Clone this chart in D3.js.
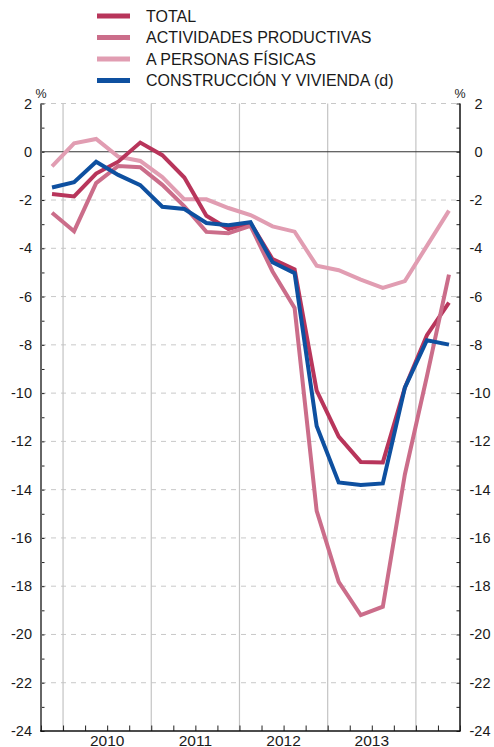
<!DOCTYPE html>
<html lang="es">
<head>
<meta charset="UTF-8">
<title>Crédito por finalidades</title>
<script src="https://d3js.org/d3.v7.min.js"></script>
<style>
  html, body { margin: 0; padding: 0; background: #fff; }
  svg { display: block; font-family: "Liberation Sans", Arial, Helvetica, sans-serif; }
</style>
</head>
<body>
<svg id="chart" width="494" height="747"></svg>
<script>
(function () {
  'use strict';

  // quarters from Q4 2009 to Q2 2014
  const quarters = ["IV-09", "I-10", "II-10", "III-10", "IV-10", "I-11", "II-11", "III-11", "IV-11",
                    "I-12", "II-12", "III-12", "IV-12", "I-13", "II-13", "III-13", "IV-13", "I-14", "II-14"];
  const years = ["2010", "2011", "2012", "2013"];
  const yTicks = d3.range(2, -25, -2);

  const total        = [-1.75, -1.85, -0.9, -0.41, 0.38, -0.14, -1.07, -2.65, -3.2, -2.95, -4.45, -4.87, -9.9, -11.8, -12.85, -12.87, -9.77, -7.6, -6.25];
  const actividades  = [-2.53, -3.29, -1.3, -0.59, -0.64, -1.37, -2.26, -3.32, -3.38, -3.07, -4.96, -6.47, -14.88, -17.82, -19.2, -18.85, -13.37, -9.3, -5.09];
  const personas     = [-0.61, 0.35, 0.53, -0.2, -0.38, -1.05, -1.97, -1.97, -2.33, -2.62, -3.09, -3.31, -4.72, -4.91, -5.3, -5.64, -5.36, -3.9, -2.44];
  const construccion = [-1.48, -1.26, -0.41, -0.96, -1.38, -2.28, -2.37, -2.95, -3.04, -2.92, -4.58, -5.03, -11.36, -13.7, -13.81, -13.74, -9.77, -7.81, -7.99];

  const seriesNames = ["TOTAL", "ACTIVIDADES PRODUCTIVAS", "A PERSONAS FÍSICAS", "CONSTRUCCIÓN Y VIVIENDA (d)"];
  const seriesColors = ["#b8355b", "#cb6d8a", "#e19db2", "#0e50a0"];
  const seriesValues = [total, actividades, personas, construccion];

  const left = 41, right = 460, top = 103.5, bottom = 731;

  const svg = d3.select("#chart");

  const x = d3.scaleLinear().domain([0, quarters.length]).range([left, right]);
  const y = d3.scaleLinear().domain([-24, 2]).range([bottom, top]);

  // dashed horizontal grid
  svg.append("g")
    .selectAll("line")
    .data(yTicks.filter(v => v !== 0 && v !== -24))
    .join("line")
      .attr("x1", left).attr("x2", right)
      .attr("y1", d => y(d)).attr("y2", d => y(d))
      .attr("stroke", "#c8c8c8")
      .attr("stroke-width", 1)
      .attr("stroke-dasharray", "5,5");

  // year separators
  const yearStarts = [1, 5, 9, 13, 17];
  svg.append("g")
    .selectAll("line")
    .data(yearStarts)
    .join("line")
      .attr("x1", d => x(d)).attr("x2", d => x(d))
      .attr("y1", top).attr("y2", bottom)
      .attr("stroke", "#c4c4c4")
      .attr("stroke-width", 1.2);

  // zero line
  svg.append("line")
    .attr("x1", left).attr("x2", right)
    .attr("y1", y(0)).attr("y2", y(0))
    .attr("stroke", "#333")
    .attr("stroke-width", 1.1);

  // left axis
  const leftAxis = d3.axisRight(y).tickValues(d3.range(2, -25, -1)).tickSize(3.5).tickFormat("");
  const gl = svg.append("g").attr("transform", `translate(${left},0)`).call(leftAxis);
  gl.select(".domain").remove();
  gl.selectAll(".tick line").attr("stroke", "#222");
  svg.append("line")
    .attr("x1", left).attr("x2", left).attr("y1", top).attr("y2", bottom)
    .attr("stroke", "#666").attr("stroke-width", 2);

  // right axis
  const rightAxis = d3.axisLeft(y).tickValues(d3.range(2, -25, -1)).tickSize(3.5).tickFormat("");
  const gr = svg.append("g").attr("transform", `translate(${right},0)`).call(rightAxis);
  gr.select(".domain").remove();
  gr.selectAll(".tick line").attr("stroke", "#222");
  svg.append("line")
    .attr("x1", right).attr("x2", right).attr("y1", top).attr("y2", bottom)
    .attr("stroke", "#111").attr("stroke-width", 1.5);

  // y labels
  svg.append("g")
    .selectAll("text")
    .data(yTicks)
    .join("text")
      .attr("x", left - 9)
      .attr("y", d => y(d) + 5)
      .attr("text-anchor", "end")
      .attr("font-size", "14.5px")
      .attr("fill", "#1a1a1a")
      .text(d => d);
  svg.append("g")
    .selectAll("text")
    .data(yTicks)
    .join("text")
      .attr("x", d => d < 0 ? right + 9.5 : right + 14.5)
      .attr("y", d => y(d) + 5)
      .attr("text-anchor", "start")
      .attr("font-size", "14.5px")
      .attr("fill", "#1a1a1a")
      .text(d => d);

  svg.append("text").attr("x", left).attr("y", 97.5).attr("text-anchor", "middle")
    .attr("font-size", "12.5px").attr("fill", "#1a1a1a").text("%");
  svg.append("text").attr("x", right).attr("y", 97.5).attr("text-anchor", "middle")
    .attr("font-size", "12.5px").attr("fill", "#1a1a1a").text("%");

  // bottom axis
  const bottomAxis = d3.axisTop(x).tickValues(d3.range(0, quarters.length + 1)).tickSize(5.5).tickFormat("");
  const gb = svg.append("g").attr("transform", `translate(0,${bottom})`).call(bottomAxis);
  gb.select(".domain").remove();
  gb.selectAll(".tick line").attr("stroke", "#222");
  svg.append("line")
    .attr("x1", left - 1).attr("x2", right + 0.75).attr("y1", bottom).attr("y2", bottom)
    .attr("stroke", "#111").attr("stroke-width", 1.5);

  svg.append("g")
    .selectAll("text")
    .data(years)
    .join("text")
      .attr("x", (d, i) => x(yearStarts[i] + 2))
      .attr("y", 745.5)
      .attr("text-anchor", "middle")
      .attr("font-size", "15.5px")
      .attr("fill", "#1a1a1a")
      .text(d => d);

  // series lines
  const line = d3.line()
    .x((d, i) => x(i + 0.5))
    .y(d => y(d));

  const drawOrder = [2, 0, 1, 3];
  svg.append("g")
    .selectAll("path")
    .data(drawOrder)
    .join("path")
      .attr("d", k => line(seriesValues[k]))
      .attr("fill", "none")
      .attr("stroke", k => seriesColors[k])
      .attr("stroke-width", 4)
      .attr("stroke-linejoin", "miter");

  // legend
  const legend = svg.append("g")
    .selectAll("g")
    .data(seriesNames)
    .join("g")
      .attr("transform", (d, i) => `translate(97,${16 + i * 21.5})`);
  legend.append("line")
    .attr("x1", 0).attr("x2", 33).attr("y1", 0).attr("y2", 0)
    .attr("stroke", (d, i) => seriesColors[i])
    .attr("stroke-width", 5);
  legend.append("text")
    .attr("x", 49)
    .attr("y", 5.8)
    .attr("font-size", "16px")
    .attr("fill", "#1a1a1a")
    .text(d => d);
}());
</script>
</body>
</html>
